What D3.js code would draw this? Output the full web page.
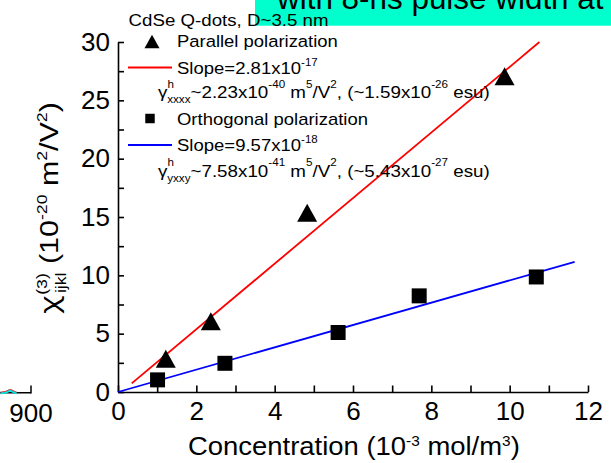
<!DOCTYPE html>
<html><head><meta charset="utf-8">
<script src="https://cdn.jsdelivr.net/npm/d3@7"></script>
<style>
html,body{margin:0;padding:0;background:#fff;}
svg{display:block;font-family:"Liberation Sans",Arial,sans-serif;}
text{white-space:pre;}
</style></head><body>
<svg id="chart" width="611" height="463"></svg>
<script>
// Parallel polarization (triangles): concentration (10^-3 mol/m^3) vs chi(3) (10^-20 m^2/V^2)
const parallelConc = [1.22, 2.37, 4.83, 9.87];
const parallelChi  = [2.86, 6.06, 15.36, 27.06];
// Orthogonal polarization (squares)
const orthoConc = [1.01, 2.73, 5.62, 7.69, 10.68];
const orthoChi  = [1.04, 2.46, 5.10, 8.24, 9.86];
// Linear fits: [slope, intercept] and the concentration span each is drawn over
const parallelFit = [2.81, -0.24];
const parallelFitSpan = [0.35, 10.76];
const orthoFit = [0.957, 0];
const orthoFitSpan = [0, 11.66];
// Axis ticks
const xMajorTicks = [0, 2, 4, 6, 8, 10, 12];
const xAllTicks = d3.range(0, 12.001, 1);
const yMajorTicks = [0, 5, 10, 15, 20, 25, 30];
const yAllTicks = d3.range(0, 30.001, 2.5);
// Neighbouring panel fragment at the left edge
const fragTicks = [900];
const fragWavelength = [862, 868, 872, 874, 876, 880, 882];
const fragSignal = [0, 0.1, 0.8, 1, 0.8, 0.1, 0];

const svg = d3.select("#chart");
const x = d3.scaleLinear().domain([0, 12]).range([118, 588]);
const y = d3.scaleLinear().domain([0, 30]).range([392, 42]);

// builds a text element from parts: [string, kind, dx, family]
function rich(parent, parts, fs, o) {
  const t = parent.append("text").attr("font-size", fs).attr("fill", "#000");
  let shift = 0;
  parts.forEach(p => {
    const [s, kind, dx, fam] = p;
    let target = 0, size = fs;
    if (kind === "sup") { target = -o.sup * fs; size = o.small * fs; }
    else if (kind === "sub") { target = o.sub * fs; size = o.small * fs; }
    const ts = t.append("tspan").attr("font-size", size).attr("dy", target - shift).text(s);
    if (dx) ts.attr("dx", dx);
    if (fam) ts.attr("font-family", fam);
    shift = target;
  });
  return t;
}
// positions a text by its start point and stretches it to a given advance width
function place(t, px, py, width, rot) {
  const w = t.node().getBBox().width;
  const sx = width ? width / w : 1;
  t.attr("transform", `translate(${px},${py}) rotate(${rot || 0}) scale(${sx},1)`);
  return t;
}

// --- neighbouring panel fragment ---
const xFrag = d3.scaleLinear().domain([850, 900]).range([-9, 31]);
const yFrag = d3.scaleLinear().domain([0, 1]).range([393, 390.3]);
svg.append("line").attr("x1", xFrag(850)).attr("x2", xFrag(900)).attr("y1", 392.7).attr("y2", 392.7)
  .attr("stroke", "#000").attr("stroke-width", 1.5);
fragTicks.forEach(v => {
  svg.append("line").attr("x1", xFrag(v)).attr("x2", xFrag(v)).attr("y1", 385.5).attr("y2", 393.4)
    .attr("stroke", "#000").attr("stroke-width", 1.5);
  svg.append("text").attr("x", xFrag(v)).attr("y", 422).attr("text-anchor", "middle")
    .attr("font-size", 26).text(v);
});
const fragLine = d3.line().x((d, i) => xFrag(fragWavelength[i])).y(d => yFrag(d)).curve(d3.curveBasis);
svg.append("path").attr("d", fragLine(fragSignal)).attr("fill", "none").attr("stroke", "#00e5e5").attr("stroke-width", 2.6);
svg.append("path").attr("d", fragLine(fragSignal)).attr("transform", "translate(0,-1)").attr("fill", "none")
  .attr("stroke", "#ff2020").attr("stroke-width", 0.9);

// --- header strip ---
svg.append("rect").attr("x", 255).attr("y", -10).attr("width", 370).attr("height", 35.7).attr("fill", "#00ffcc");
place(rich(svg, [["with 8-ns pulse width at"]], 31, {}), 277, 9, 328);
place(rich(svg, [["CdSe Q-dots, D~3.5 nm"]], 17, {}), 128.6, 25.5, 200);

// --- axes ---
const xAxis = d3.axisBottom(x).tickValues(xAllTicks).tickSizeInner(-6.5).tickSizeOuter(0).tickPadding(10)
  .tickFormat(d => xMajorTicks.includes(d) ? d3.format("d")(d) : "");
const gx = svg.append("g").attr("transform", `translate(0,${y(0)})`).call(xAxis);
const yAxis = d3.axisLeft(y).tickValues(yAllTicks).tickSizeInner(-6).tickSizeOuter(0).tickPadding(8)
  .tickFormat(d => yMajorTicks.includes(d) ? d3.format("d")(d) : "");
const gy = svg.append("g").attr("transform", `translate(${x(0)},0)`).call(yAxis);
[gx, gy].forEach(g => {
  g.attr("font-family", null).attr("font-size", null);
  g.selectAll("path,line").attr("stroke", "#000").attr("stroke-width", 1.6);
  g.selectAll("text").attr("font-size", 26).attr("fill", "#000");
});

// axis titles
place(rich(svg, [["Concentration (10"], ["-3", "sup"], [" mol/m"], ["3", "sup"], [")"]], 26,
  { sup: 0.36, small: 0.56 }), 188, 455, 332);
place(rich(svg, [["\u03c7", "", 0, "Noto Sans"], ["(3)", "sup", 1], ["ijkl", "sub", -17], [" (10"], ["-20", "sup"], [" m"], ["2", "sup"], ["/V"], ["2", "sup"], [")"]], 26,
  { sup: 0.42, sub: 0.3, small: 0.58 }), 58, 314, 212, -90);

// --- fit lines ---
const fitLine = d3.line().x(d => x(d[0])).y(d => y(d[1]));
function fitPoints(fit, span) { return span.map(c => [c, fit[0] * c + fit[1]]); }
svg.append("path").attr("d", fitLine(fitPoints(parallelFit, parallelFitSpan)))
  .attr("fill", "none").attr("stroke", "#ff0000").attr("stroke-width", 1.8);
svg.append("path").attr("d", fitLine(fitPoints(orthoFit, orthoFitSpan)))
  .attr("fill", "none").attr("stroke", "#0000ff").attr("stroke-width", 1.8);

// --- markers ---
const triangleUp = {
  draw(ctx, size) {
    const w = Math.sqrt(size);
    ctx.moveTo(0, -0.45 * w); ctx.lineTo(0.5 * w, 0.45 * w); ctx.lineTo(-0.5 * w, 0.45 * w); ctx.closePath();
  }
};
const tri = d3.symbol().type(triangleUp).size(400);
const sq = d3.symbol().type(d3.symbolSquare).size(225);
svg.selectAll(".tri").data(parallelConc).join("path").attr("class", "tri")
  .attr("d", tri).attr("fill", "#000")
  .attr("transform", (d, i) => `translate(${x(d)},${y(parallelChi[i])})`);
svg.selectAll(".sq").data(orthoConc).join("path").attr("class", "sq")
  .attr("d", sq).attr("fill", "#000")
  .attr("transform", (d, i) => `translate(${x(d)},${y(orthoChi[i])})`);

// --- legend ---
const leg = svg.append("g");
leg.append("path").attr("d", d3.symbol().type(triangleUp).size(225)()).attr("fill", "#000")
  .attr("transform", "translate(152,41.5)");
place(rich(leg, [["Parallel polarization"]], 17, {}), 177, 47, 161);
leg.append("line").attr("x1", 128).attr("x2", 172).attr("y1", 67.5).attr("y2", 67.5)
  .attr("stroke", "#ff0000").attr("stroke-width", 1.8);
place(rich(leg, [["Slope=2.81x10"], ["-17", "sup"]], 17, { sup: 0.45, small: 0.62 }), 177, 73.5, 141);
place(rich(leg, [["\u03b3"], ["h", "sup"], ["xxxx", "sub", -6], ["~2.23x10"], ["-40", "sup"], [" m"], ["5", "sup"], ["/V"], ["2", "sup"],
  [", (~1.59x10"], ["-26", "sup"], [" esu)"]], 17, { sup: 0.62, sub: 0.3, small: 0.62 }), 158, 98.3, 332);
leg.append("path").attr("d", d3.symbol().type(d3.symbolSquare).size(90)()).attr("fill", "#000")
  .attr("transform", "translate(150,118.5)");
place(rich(leg, [["Orthogonal polarization"]], 17, {}), 177, 125, 191);
leg.append("line").attr("x1", 128).attr("x2", 172).attr("y1", 145).attr("y2", 145)
  .attr("stroke", "#0000ff").attr("stroke-width", 1.8);
place(rich(leg, [["Slope=9.57x10"], ["-18", "sup"]], 17, { sup: 0.45, small: 0.62 }), 177, 150.5, 141);
place(rich(leg, [["\u03b3"], ["h", "sup"], ["yxxy", "sub", -6], ["~7.58x10"], ["-41", "sup"], [" m"], ["5", "sup"], ["/V"], ["2", "sup"],
  [", (~5.43x10"], ["-27", "sup"], [" esu)"]], 17, { sup: 0.62, sub: 0.3, small: 0.62 }), 158, 176.7, 332);
</script>
</body></html>
